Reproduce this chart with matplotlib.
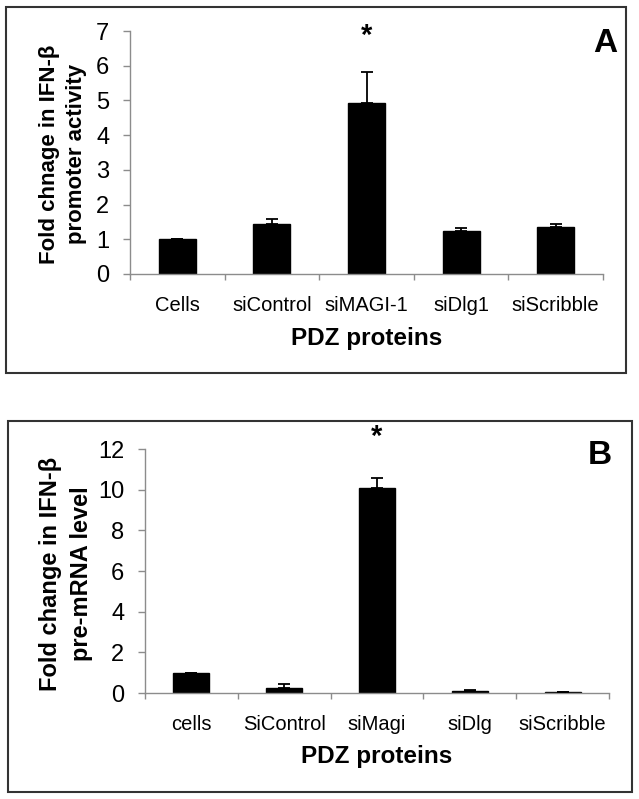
import matplotlib
matplotlib.use("Agg")
import matplotlib.pyplot as plt
from matplotlib.patches import Rectangle
import numpy as np

plt.rcParams['font.family'] = ['Liberation Sans', 'DejaVu Sans']

# Panel A data
cats_a = ["Cells", "siControl", "siMAGI-1", "siDlg1", "siScribble"]
vals_a = [1.0, 1.45, 4.93, 1.23, 1.36]
errs_a = [0.02, 0.12, 0.90, 0.10, 0.09]
yticks_a = [0, 1, 2, 3, 4, 5, 6, 7]
ylabel_a = "Fold chnage in IFN-β\npromoter activity"

# Panel B data
cats_b = ["cells", "SiControl", "siMagi", "siDlg", "siScribble"]
vals_b = [1.0, 0.27, 10.1, 0.12, 0.03]
errs_b = [0.0, 0.18, 0.45, 0.03, 0.0]
yticks_b = [0, 2, 4, 6, 8, 10, 12]
ylabel_b = "Fold change in IFN-β\npre-mRNA level"

xlabel = "PDZ proteins"

W, H = 639, 799
fig = plt.figure(figsize=(W / 100, H / 100), dpi=100)


def fx(x):
    return x / W


def fy(y):
    return 1 - y / H


def make_panel(left, right, top, bottom, cats, vals, errs, yticks, ylabel,
               letter, box, ylab_xy, ylab_fs, ylab_ls, xlab_y, letter_xy, star_val):
    ax = fig.add_axes([fx(left), fy(bottom), fx(right) - fx(left), fy(top) - fy(bottom)])
    x = np.arange(len(cats)) + 0.5
    ax.bar(x, vals, width=0.39, color='black', edgecolor='black', zorder=2)
    ax.errorbar(x, vals, yerr=[np.zeros(len(errs)), errs], fmt='none',
                ecolor='black', elinewidth=1.3, capsize=4, capthick=1.3, zorder=3)
    ax.set_xlim(0, len(cats))
    ax.set_ylim(yticks[0], yticks[-1])
    ax.set_yticks(yticks)
    ax.set_yticklabels([str(t) for t in yticks], fontsize=17)
    ax.set_xticks(x)
    ax.set_xticklabels(cats, fontsize=14.5)
    ax.set_xticks(np.arange(len(cats) + 1), minor=True)
    ax.tick_params(axis='x', which='major', length=0, pad=16)
    ax.tick_params(axis='x', which='minor', length=4.5, direction='out',
                   color='#8c8c8c', width=1)
    ax.tick_params(axis='y', which='major', length=5, direction='out',
                   color='#8c8c8c', width=1, pad=10)
    for s in ['top', 'right']:
        ax.spines[s].set_visible(False)
    for s in ['left', 'bottom']:
        ax.spines[s].set_color('#8c8c8c')
        ax.spines[s].set_linewidth(1)
    ax.patch.set_alpha(0)
    # asterisk
    ax.text(x[2], star_val, "*", ha='center', va='center', fontsize=21,
            fontweight='bold')
    # labels
    fig.text(fx(ylab_xy[0]), fy(ylab_xy[1]), ylabel, rotation=90, ha='center',
             va='center', fontsize=ylab_fs, fontweight='bold',
             multialignment='center', linespacing=ylab_ls)
    fig.text(fx((left + right) / 2), fy(xlab_y), xlabel, ha='center',
             va='center', fontsize=17.5, fontweight='bold')
    fig.text(fx(letter_xy[0]), fy(letter_xy[1]), letter, ha='center',
             va='center', fontsize=24, fontweight='bold')
    bx0, by0, bx1, by1 = box
    fig.patches.append(Rectangle((fx(bx0), fy(by1)), fx(bx1) - fx(bx0),
                                 fy(by0) - fy(by1), transform=fig.transFigure,
                                 fill=False, edgecolor='#333333', linewidth=1.5))
    return ax


make_panel(130, 603, 31, 274, cats_a, vals_a, errs_a, yticks_a, ylabel_a, "A",
           (6, 7, 626, 373), (63, 154), 16, 1.35, 338, (605, 43), 6.85)
make_panel(145, 609, 449, 693, cats_b, vals_b, errs_b, yticks_b, ylabel_b, "B",
           (8, 421, 632, 792), (66, 574), 17, 1.4, 757, (600, 455), 12.6)

fig.savefig("out.png", dpi=100)
